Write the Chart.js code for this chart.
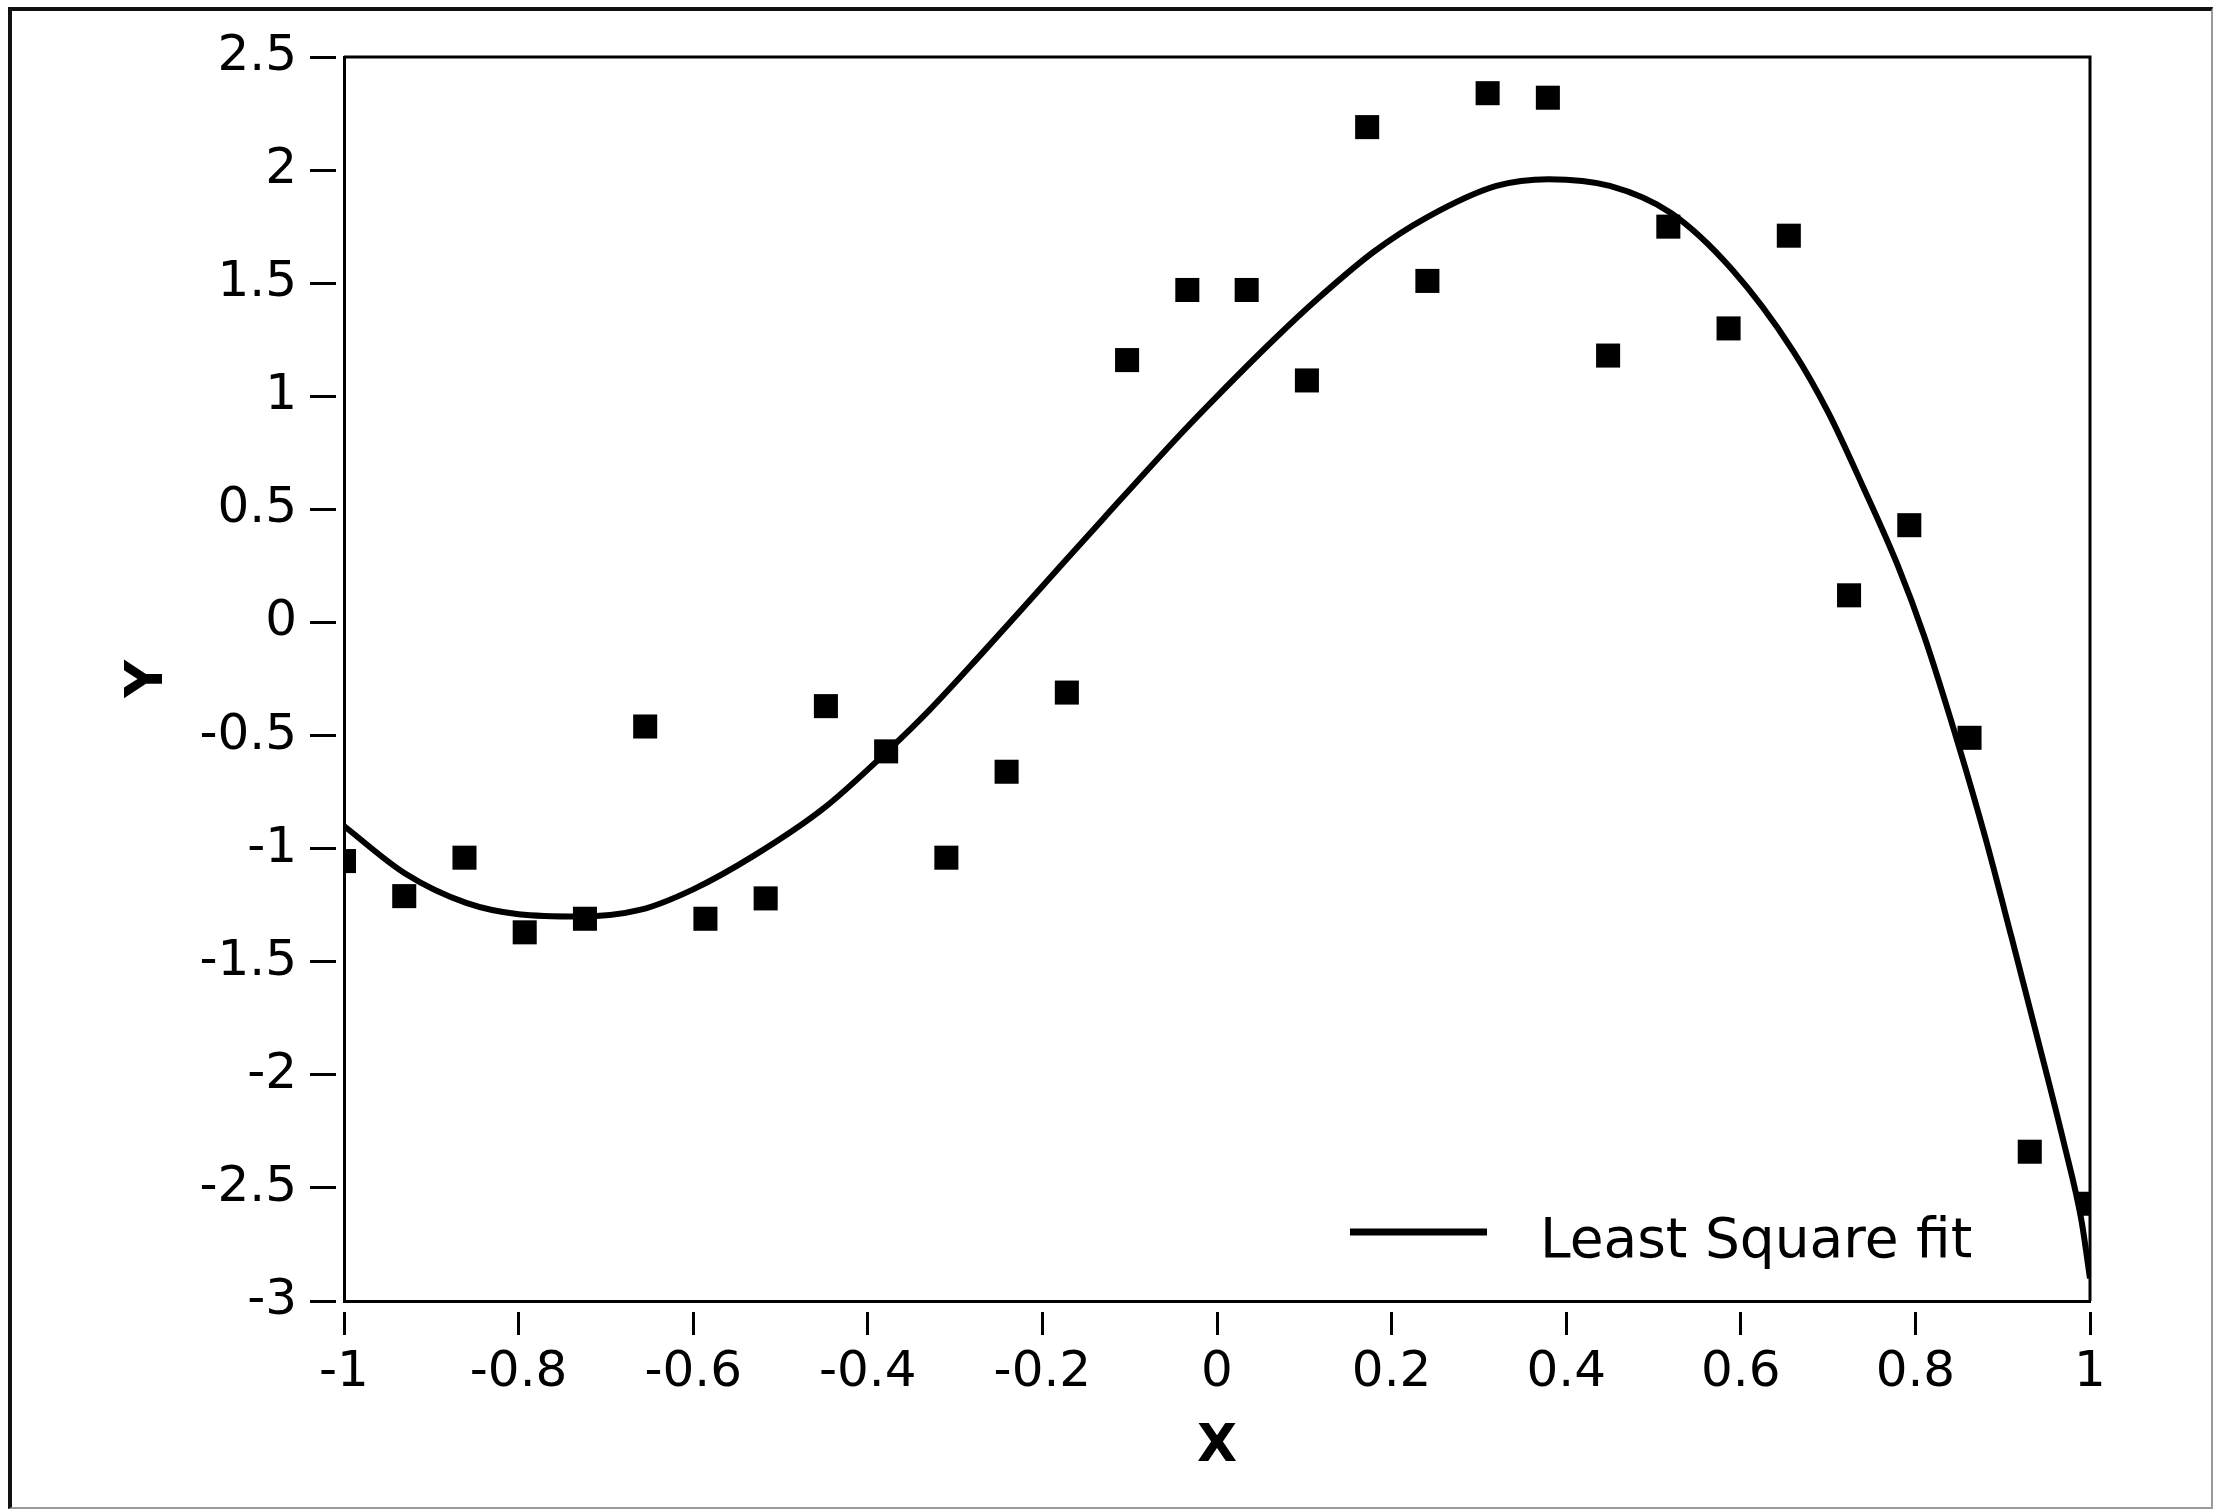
<!DOCTYPE html>
<html>
<head>
<meta charset="utf-8">
<title>Least Square fit</title>
<script src="https://cdn.jsdelivr.net/npm/chart.js@4.4.1/dist/chart.umd.min.js"></script>
<style>
  html, body { margin: 0; padding: 0; background: #fff; }
  #wrap { position: relative; width: 2217px; height: 1509px; }
  #frame {
    position: absolute; left: 8px; top: 7px; width: 2199px; height: 1496px;
    border-top: 4px solid #111; border-left: 4px solid #111;
    border-right: 2px solid #9a9a9a; border-bottom: 2px solid #9a9a9a;
    pointer-events: none;
  }
</style>
</head>
<body>
<div id="wrap">
  <canvas id="chart" width="2217" height="1509"></canvas>
  <div id="frame"></div>
</div>
<script>
// measured samples
const xValues = [-1, -0.931, -0.862, -0.793, -0.724, -0.655, -0.586, -0.517, -0.448, -0.379,
                 -0.310, -0.241, -0.172, -0.103, -0.034, 0.034, 0.103, 0.172, 0.241, 0.310,
                 0.379, 0.448, 0.517, 0.586, 0.655, 0.724, 0.793, 0.862, 0.931, 1];
const yValues = [-1.055, -1.21, -1.04, -1.37, -1.31, -0.46, -1.31, -1.22, -0.37, -0.57,
                 -1.04, -0.66, -0.31, 1.16, 1.47, 1.47, 1.07, 2.19, 1.51, 2.34,
                 2.32, 1.18, 1.75, 1.30, 1.71, 0.12, 0.43, -0.51, -2.34, -2.57];

// fitted curve
const fitX = [-1, -0.93, -0.86, -0.8, -0.73, -0.66, -0.6, -0.53, -0.45, -0.375,
              -0.33, -0.27, -0.2, -0.13, -0.04, 0, 0.065, 0.115, 0.18, 0.24,
              0.32, 0.38, 0.45, 0.52, 0.59, 0.66, 0.70, 0.74, 0.78, 0.81,
              0.85, 0.88, 0.91, 0.94, 0.97, 0.99, 1];
const fitY = [-0.90, -1.11, -1.24, -1.29, -1.30, -1.27, -1.18, -1.03, -0.82, -0.56,
              -0.39, -0.14, 0.16, 0.46, 0.84, 1.00, 1.25, 1.43, 1.64, 1.79,
              1.93, 1.96, 1.93, 1.81, 1.56, 1.20, 0.93, 0.60, 0.25, -0.06,
              -0.55, -0.95, -1.39, -1.84, -2.30, -2.64, -2.90];

const xTicks = [-1, -0.8, -0.6, -0.4, -0.2, 0, 0.2, 0.4, 0.6, 0.8, 1];
const yTicks = [2.5, 2, 1.5, 1, 0.5, 0, -0.5, -1, -1.5, -2, -2.5, -3];

const fitLabel = "Least Square fit";
const FONT = "'DejaVu Sans', 'Liberation Sans', sans-serif";

// closes the plot box and draws the legend entry inside it
const boxAndLegend = {
  id: 'boxAndLegend',
  afterDatasetsDraw(chart) {
    const { ctx, chartArea: a } = chart;
    ctx.save();
    ctx.strokeStyle = '#000';
    ctx.lineWidth = 3;
    ctx.beginPath();
    ctx.moveTo(a.left, a.top);
    ctx.lineTo(a.right, a.top);
    ctx.lineTo(a.right, a.bottom);
    ctx.stroke();

    ctx.lineWidth = 7;
    ctx.beginPath();
    ctx.moveTo(a.right - 740, a.bottom - 69);
    ctx.lineTo(a.right - 603, a.bottom - 69);
    ctx.stroke();

    ctx.fillStyle = '#000';
    ctx.font = "55px " + FONT;
    ctx.textAlign = 'left';
    ctx.textBaseline = 'alphabetic';
    ctx.fillText(chart.data.datasets[0].label, a.right - 550, a.bottom - 44);
    ctx.restore();
  }
};

const fmt = v => String(Number(Number(v).toFixed(1)));

new Chart(document.getElementById('chart'), {
  type: 'scatter',
  data: {
    datasets: [
      {
        label: fitLabel,
        data: fitX.map((x, i) => ({ x, y: fitY[i] })),
        showLine: true,
        borderColor: '#000',
        borderWidth: 6,
        pointRadius: 0,
        cubicInterpolationMode: 'monotone',
        order: 1
      },
      {
        label: 'Y',
        data: xValues.map((x, i) => ({ x, y: yValues[i] })),
        pointStyle: 'rect',
        pointRadius: 17,
        backgroundColor: '#000',
        borderWidth: 0,
        order: 0
      }
    ]
  },
  options: {
    responsive: false,
    animation: false,
    events: [],
    layout: { padding: { top: 57, right: 127, bottom: 0, left: 0 } },
    plugins: { legend: { display: false }, tooltip: { enabled: false } },
    scales: {
      x: {
        type: 'linear', min: -1, max: 1,
        afterFit: s => { s.height = 208; },
        afterBuildTicks: s => { s.ticks = xTicks.map(v => ({ value: v })); },
        ticks: { autoSkip: false, maxRotation: 0, padding: 8, color: '#000',
                 font: { family: FONT, size: 50 }, callback: fmt },
        grid: { drawOnChartArea: false, drawTicks: true, tickLength: 34, tickWidth: 3,
                tickColor: '#000', tickBorderDash: [0, 9, 24, 100] },
        border: { display: true, color: '#000', width: 3 },
        title: { display: true, text: 'X', color: '#000',
                 font: { family: FONT, size: 52, weight: 'bold' },
                 padding: { top: 0, bottom: 30 } }
      },
      y: {
        type: 'linear', min: -3, max: 2.5,
        afterFit: s => { s.width = 344; },
        afterBuildTicks: s => { s.ticks = yTicks.map(v => ({ value: v })); },
        ticks: { autoSkip: false, padding: 13, color: '#000',
                 font: { family: FONT, size: 50 }, callback: fmt },
        grid: { drawOnChartArea: false, drawTicks: true, tickLength: 34, tickWidth: 3,
                tickColor: '#000', tickBorderDash: [26, 100] },
        border: { display: true, color: '#000', width: 3 },
        title: { display: true, text: 'Y', color: '#000',
                 font: { family: FONT, size: 52, weight: 'bold' },
                 padding: { top: 117, bottom: 0 } }
      }
    }
  },
  plugins: [boxAndLegend]
});
</script>
</body>
</html>
